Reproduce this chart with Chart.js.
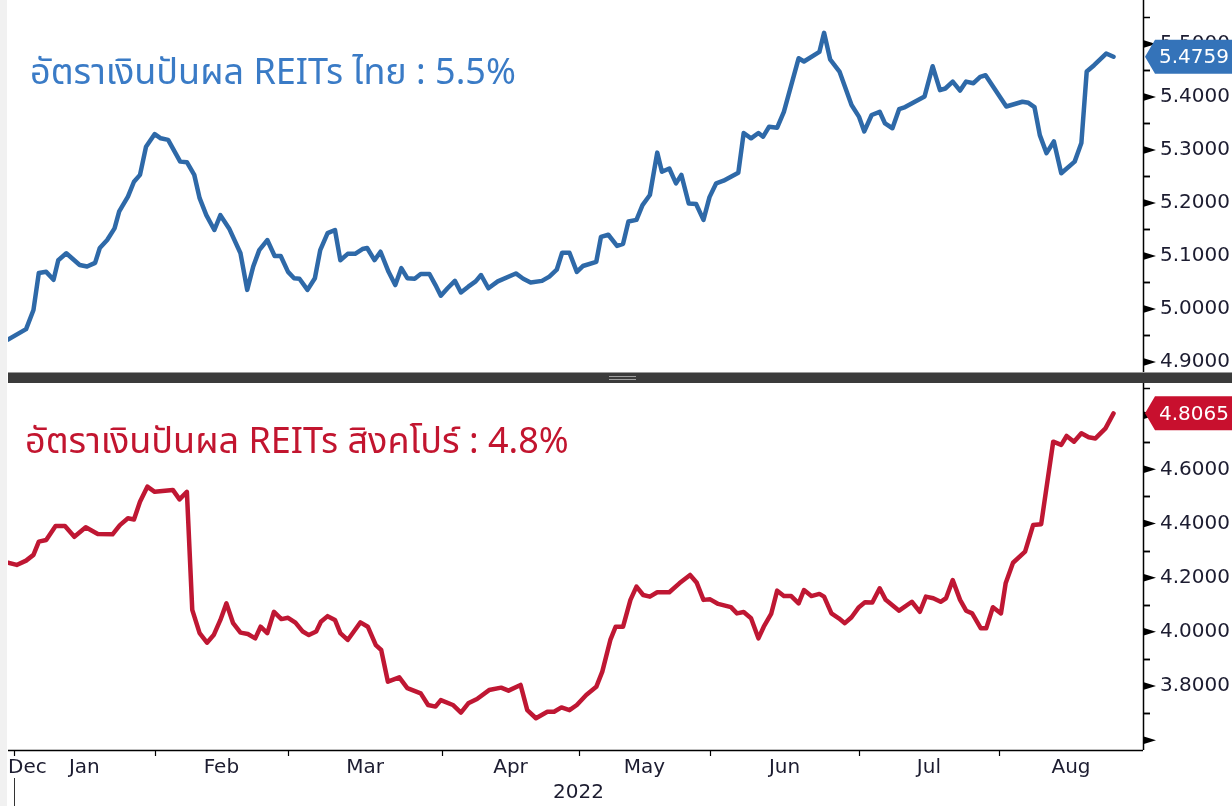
<!DOCTYPE html>
<html>
<head>
<meta charset="utf-8">
<script src="https://cdn.jsdelivr.net/npm/chart.js@4.4.0/dist/chart.umd.min.js"></script>
<style>
html,body{margin:0;padding:0;background:#fff;}
#wrap{position:relative;width:1232px;height:806px;overflow:hidden;background:#fff;}
#leftStrip{position:absolute;left:0;top:0;width:7px;height:806px;background:#f1f1f1;}
.cv{position:absolute;left:0;}
#sep{position:absolute;left:8px;top:372px;width:1224px;height:10px;background:#3b3b3b;border-top:1px solid #9a9a9a;}
#grip{position:absolute;left:601px;top:3px;width:27px;height:2px;border-top:1px solid #a0a0a0;border-bottom:1px solid #a0a0a0;}
.title{position:absolute;font-family:"Noto Sans Thai","Noto Sans Thai UI","Noto Sans","DejaVu Sans",sans-serif;font-size:36px;white-space:nowrap;line-height:1;}
#t1{left:30px;top:55px;color:#3a7bc6;}
#t2{left:25px;top:424px;color:#c2152f;}
</style>
</head>
<body>
<div id="wrap">
  <div id="leftStrip"></div>
  <canvas id="c1" class="cv" width="1232" height="372" style="top:0px"></canvas>
  <canvas id="c2" class="cv" width="1232" height="423" style="top:383px"></canvas>
  <div id="sep"><div id="grip"></div></div>
  <div id="t1" class="title">อัตราเงินปันผล REITs ไทย : 5.5%</div>
  <div id="t2" class="title">อัตราเงินปันผล REITs สิงคโปร์ : 4.8%</div>
</div>
<script>
// ---- data (x = trading-day index from the first observation, late Dec 2021) ----
const thaiDays = [0,2.7,3.8,4.6,5.7,6.8,7.5,8.7,10.7,11.8,
13.0,13.7,14.8,15.9,16.6,17.9,18.8,19.7,20.6,21.9,
22.8,23.9,25.7,26.7,27.8,28.6,29.6,30.8,31.7,33.0,
34.7,35.7,36.6,37.5,38.7,39.8,40.7,41.8,42.7,43.5,
44.7,45.8,46.6,47.7,48.8,49.6,50.7,51.8,52.9,53.6,
54.7,55.6,56.8,57.8,58.7,59.6,60.7,61.6,62.9,63.8,
64.6,65.6,66.7,67.6,68.7,69.8,70.6,71.7,73.1,75.8,
76.9,78.0,79.7,80.8,81.9,82.7,83.8,84.9,85.8,87.8,
88.5,89.6,90.9,91.8,92.6,93.8,94.7,95.8,96.9,97.6,
98.7,99.7,100.5,101.6,102.7,103.8,104.7,105.7,106.8,109.0,
109.8,110.9,112.0,112.7,113.6,114.8,115.8,118.0,118.8,121.1,
121.8,122.7,124.1,125.9,127.0,127.8,128.9,130.1,130.9,132.0,
133.0,133.9,136.8,138.0,139.1,139.9,141.0,142.1,143.0,144.1,
145.1,145.9,149.0,151.4,152.3,153.2,154.0,155.0,156.1,157.2,
159.2,160.2,161.0,162.1,163.9,165.0];
const thaiYield = [4.942,4.962,4.998,5.068,5.070,5.055,5.092,5.105,5.083,5.080,
5.087,5.115,5.130,5.152,5.184,5.212,5.240,5.253,5.306,5.330,
5.322,5.319,5.278,5.277,5.253,5.209,5.177,5.149,5.177,5.152,
5.105,5.036,5.080,5.111,5.130,5.100,5.100,5.070,5.058,5.057,
5.036,5.058,5.111,5.143,5.149,5.092,5.104,5.104,5.113,5.115,
5.092,5.108,5.070,5.045,5.077,5.058,5.057,5.066,5.066,5.045,
5.025,5.039,5.053,5.031,5.042,5.052,5.064,5.039,5.052,5.067,
5.057,5.050,5.053,5.061,5.074,5.106,5.106,5.070,5.081,5.089,
5.136,5.140,5.119,5.123,5.165,5.168,5.196,5.215,5.295,5.259,
5.265,5.237,5.253,5.199,5.198,5.168,5.211,5.237,5.242,5.257,
5.332,5.322,5.332,5.325,5.344,5.342,5.372,5.473,5.467,5.485,
5.521,5.471,5.448,5.385,5.363,5.335,5.366,5.372,5.350,5.341,
5.377,5.381,5.401,5.458,5.413,5.416,5.429,5.412,5.429,5.426,
5.438,5.441,5.382,5.391,5.389,5.381,5.328,5.294,5.316,5.256,
5.278,5.313,5.448,5.460,5.482,5.4759];

const sgDays = [0,1.3,2.7,3.8,4.6,5.7,7.1,8.5,9.9,11.6,
13.4,15.6,16.7,17.9,18.8,19.7,20.8,21.9,24.6,25.6,
26.7,27.5,28.6,29.7,30.7,31.7,32.6,33.6,34.7,35.8,
36.9,37.7,38.7,39.7,40.8,41.8,42.9,44.0,44.9,46.0,
46.7,47.7,48.8,49.6,50.7,51.7,52.6,53.7,54.9,55.7,
56.7,58.4,59.6,61.6,62.7,63.8,64.6,66.4,67.6,68.7,
70.0,71.8,73.6,74.7,76.5,77.5,78.8,80.5,81.5,82.6,
83.8,84.9,86.3,87.8,88.7,89.9,90.7,91.8,92.9,93.8,
94.8,95.8,96.9,98.7,100.2,101.8,102.8,103.8,104.8,106.0,
107.9,108.8,109.8,110.9,112.0,112.8,113.9,114.8,115.8,116.9,
118.0,118.8,119.9,121.1,121.8,122.9,124.0,124.9,125.9,127.0,
127.9,129.0,130.1,131.0,133.0,134.9,136.1,137.0,138.1,139.2,
140.0,141.0,142.1,143.0,143.9,145.2,146.0,147.0,148.2,148.9,
150.0,151.8,153.0,154.2,156.0,157.2,158.0,159.1,160.2,161.3,
162.3,163.8,165.0];
const sgYield = [4.255,4.247,4.263,4.284,4.333,4.339,4.391,4.391,4.351,4.386,
4.361,4.360,4.394,4.419,4.415,4.480,4.536,4.517,4.524,4.489,
4.517,4.081,3.995,3.960,3.988,4.044,4.105,4.032,3.997,3.992,
3.976,4.019,3.995,4.074,4.047,4.052,4.034,4.001,3.988,4.001,
4.037,4.058,4.044,3.995,3.970,4.004,4.035,4.019,3.951,3.933,
3.816,3.832,3.792,3.773,3.730,3.724,3.748,3.730,3.702,3.736,
3.752,3.785,3.794,3.783,3.804,3.711,3.681,3.705,3.705,3.721,
3.711,3.730,3.767,3.797,3.853,3.970,4.019,4.019,4.118,4.167,
4.136,4.130,4.146,4.146,4.179,4.210,4.181,4.118,4.120,4.103,
4.091,4.068,4.073,4.050,3.976,4.019,4.066,4.152,4.132,4.132,
4.105,4.154,4.132,4.140,4.130,4.068,4.050,4.032,4.054,4.091,
4.109,4.108,4.161,4.118,4.078,4.111,4.074,4.130,4.124,4.111,
4.124,4.191,4.118,4.078,4.068,4.013,4.013,4.091,4.068,4.179,
4.255,4.296,4.394,4.397,4.702,4.690,4.723,4.702,4.733,4.718,
4.714,4.751,4.8065];

// month boundaries (trading-day index of the 1st trading day of each month) and labels
const monthStarts = [0.9,21.9,41.8,64.8,85.2,104.8,127.0,147.9];
const monthLabels = ['Dec','Jan','Feb','Mar','Apr','May','Jun','Jul','Aug'];
const yearLabel = '2022';
const xEnd = 169.4;

// y-axis ticks
const thaiTicks = [4.9,5.0,5.1,5.2,5.3,5.4,5.5];
const sgTicks = [3.6,3.8,4.0,4.2,4.4,4.6,4.8];
const thaiRange = [4.881,5.583];
const sgRange = [3.5638,4.9186];

const FONT = '"DejaVu Sans", Verdana, sans-serif';
const TXT = '#1c1c30';

function pairs(xs, ys){ return xs.map((x,i)=>({x:x, y:ys[i]})); }

function rightAxisPlugin(badgeColor, minorStep){
  return {
    id:'rightAxis',
    afterDraw(chart){
      const {ctx, chartArea:a, scales:{y}} = chart;
      const W = chart.width;
      ctx.save();
      ctx.strokeStyle = '#000'; ctx.fillStyle = '#000'; ctx.lineWidth = 1.5;
      ctx.beginPath(); ctx.moveTo(a.right+0.5, 0); ctx.lineTo(a.right+0.5, a.bottom); ctx.stroke();
      y.ticks.forEach(t=>{
        const py = y.getPixelForValue(t.value);
        ctx.beginPath();
        ctx.moveTo(a.right, py-4); ctx.lineTo(a.right+13, py); ctx.lineTo(a.right, py+4); ctx.closePath(); ctx.fill();
        [t.value-minorStep, t.value+minorStep].forEach(m=>{
          const pm = y.getPixelForValue(m);
          if (pm > a.top+2 && pm < a.bottom-2) {
            ctx.beginPath(); ctx.lineWidth=1.5; ctx.moveTo(a.right, Math.round(pm)+0.5); ctx.lineTo(a.right+7, Math.round(pm)+0.5); ctx.stroke();
          }
        });
      });
      const ds = chart.data.datasets[0].data;
      const last = ds[ds.length-1].y;
      const py = y.getPixelForValue(last);
      const x0 = a.right + 2, h = 17;
      ctx.fillStyle = badgeColor;
      ctx.beginPath();
      ctx.moveTo(x0, py); ctx.lineTo(x0+10, py-h); ctx.lineTo(W, py-h); ctx.lineTo(W, py+h); ctx.lineTo(x0+10, py+h); ctx.closePath();
      ctx.fill();
      ctx.fillStyle = '#fff';
      ctx.font = '20px ' + FONT;
      ctx.textBaseline = 'middle'; ctx.textAlign = 'left';
      ctx.fillText(last.toFixed(4), a.right + 16, py+1);
      ctx.restore();
    }
  };
}

const xAxisPlugin = {
  id:'xAxisCustom',
  afterDraw(chart){
    const {ctx, chartArea:a, scales:{x}} = chart;
    ctx.save();
    ctx.strokeStyle='#000'; ctx.lineWidth=1.5;
    ctx.beginPath(); ctx.moveTo(a.left, a.bottom+0.5); ctx.lineTo(a.right, a.bottom+0.5); ctx.stroke();
    ctx.lineWidth=1.2;
    monthStarts.forEach(d=>{
      const px = Math.round(x.getPixelForValue(d))+0.5;
      ctx.beginPath(); ctx.moveTo(px, a.bottom); ctx.lineTo(px, a.bottom+6); ctx.stroke();
    });
    const p0 = Math.round(x.getPixelForValue(monthStarts[0]))+0.5;
    ctx.beginPath(); ctx.lineWidth=1; ctx.strokeStyle='#333'; ctx.moveTo(p0, a.bottom+28); ctx.lineTo(p0, chart.height); ctx.stroke();
    ctx.fillStyle = TXT; ctx.font = '20px ' + FONT; ctx.textBaseline='middle';
    const bounds = [x.min].concat(monthStarts).concat([x.max]);
    monthLabels.forEach((lab,i)=>{
      if (i===0){ ctx.textAlign='left'; ctx.fillText(lab, a.left, a.bottom+18); return; }
      const mid = (bounds[i]+bounds[i+1])/2;
      ctx.textAlign='center'; ctx.fillText(lab, x.getPixelForValue(mid), a.bottom+18);
    });
    ctx.textAlign='center';
    ctx.fillText(yearLabel, x.getPixelForValue((monthStarts[0]+x.max)/2), a.bottom+43);
    ctx.restore();
  }
};

function makeChart(id, xs, ys, color, range, ticks, badgeColor, minorStep, padBottom, firstLabel){
  return new Chart(document.getElementById(id), {
    type:'line',
    data:{ datasets:[{ data: pairs(xs, ys), borderColor: color, borderWidth: 4.5, pointRadius: 0, tension: 0,
      borderJoinStyle:'round', borderCapStyle:'round', fill:false }]},
    options:{
      responsive:false, animation:false, devicePixelRatio:1,
      layout:{ padding:{left:8, right:0, top:0, bottom:padBottom}, autoPadding:false },
      plugins:{ legend:{display:false}, tooltip:{enabled:false} },
      scales:{
        x:{ type:'linear', min:0, max:xEnd, display:false },
        y:{ position:'right', min:range[0], max:range[1],
            afterFit(s){ s.width = 89; s.paddingTop = 0; s.paddingBottom = 0; s.paddingLeft = 0; s.paddingRight = 0; },
            afterBuildTicks(s){ s.ticks = ticks.map(v=>({value:v})); },
            grid:{ display:false, drawTicks:false }, border:{ display:false },
            ticks:{ padding:17, autoSkip:false, color:TXT, font:{family:FONT, size:20},
              callback:(v)=> (v < firstLabel ? '' : Number(v).toFixed(4)) } }
      }
    },
    plugins: padBottom ? [rightAxisPlugin(badgeColor, minorStep), xAxisPlugin] : [rightAxisPlugin(badgeColor, minorStep)]
  });
}

makeChart('c1', thaiDays, thaiYield, '#2e69a8', thaiRange, thaiTicks, '#3473b9', 0.05, 0, 4.85);
makeChart('c2', sgDays, sgYield, '#bf1733', sgRange, sgTicks, '#c8102e', 0.1, 56, 3.7);
</script>
</body>
</html>
